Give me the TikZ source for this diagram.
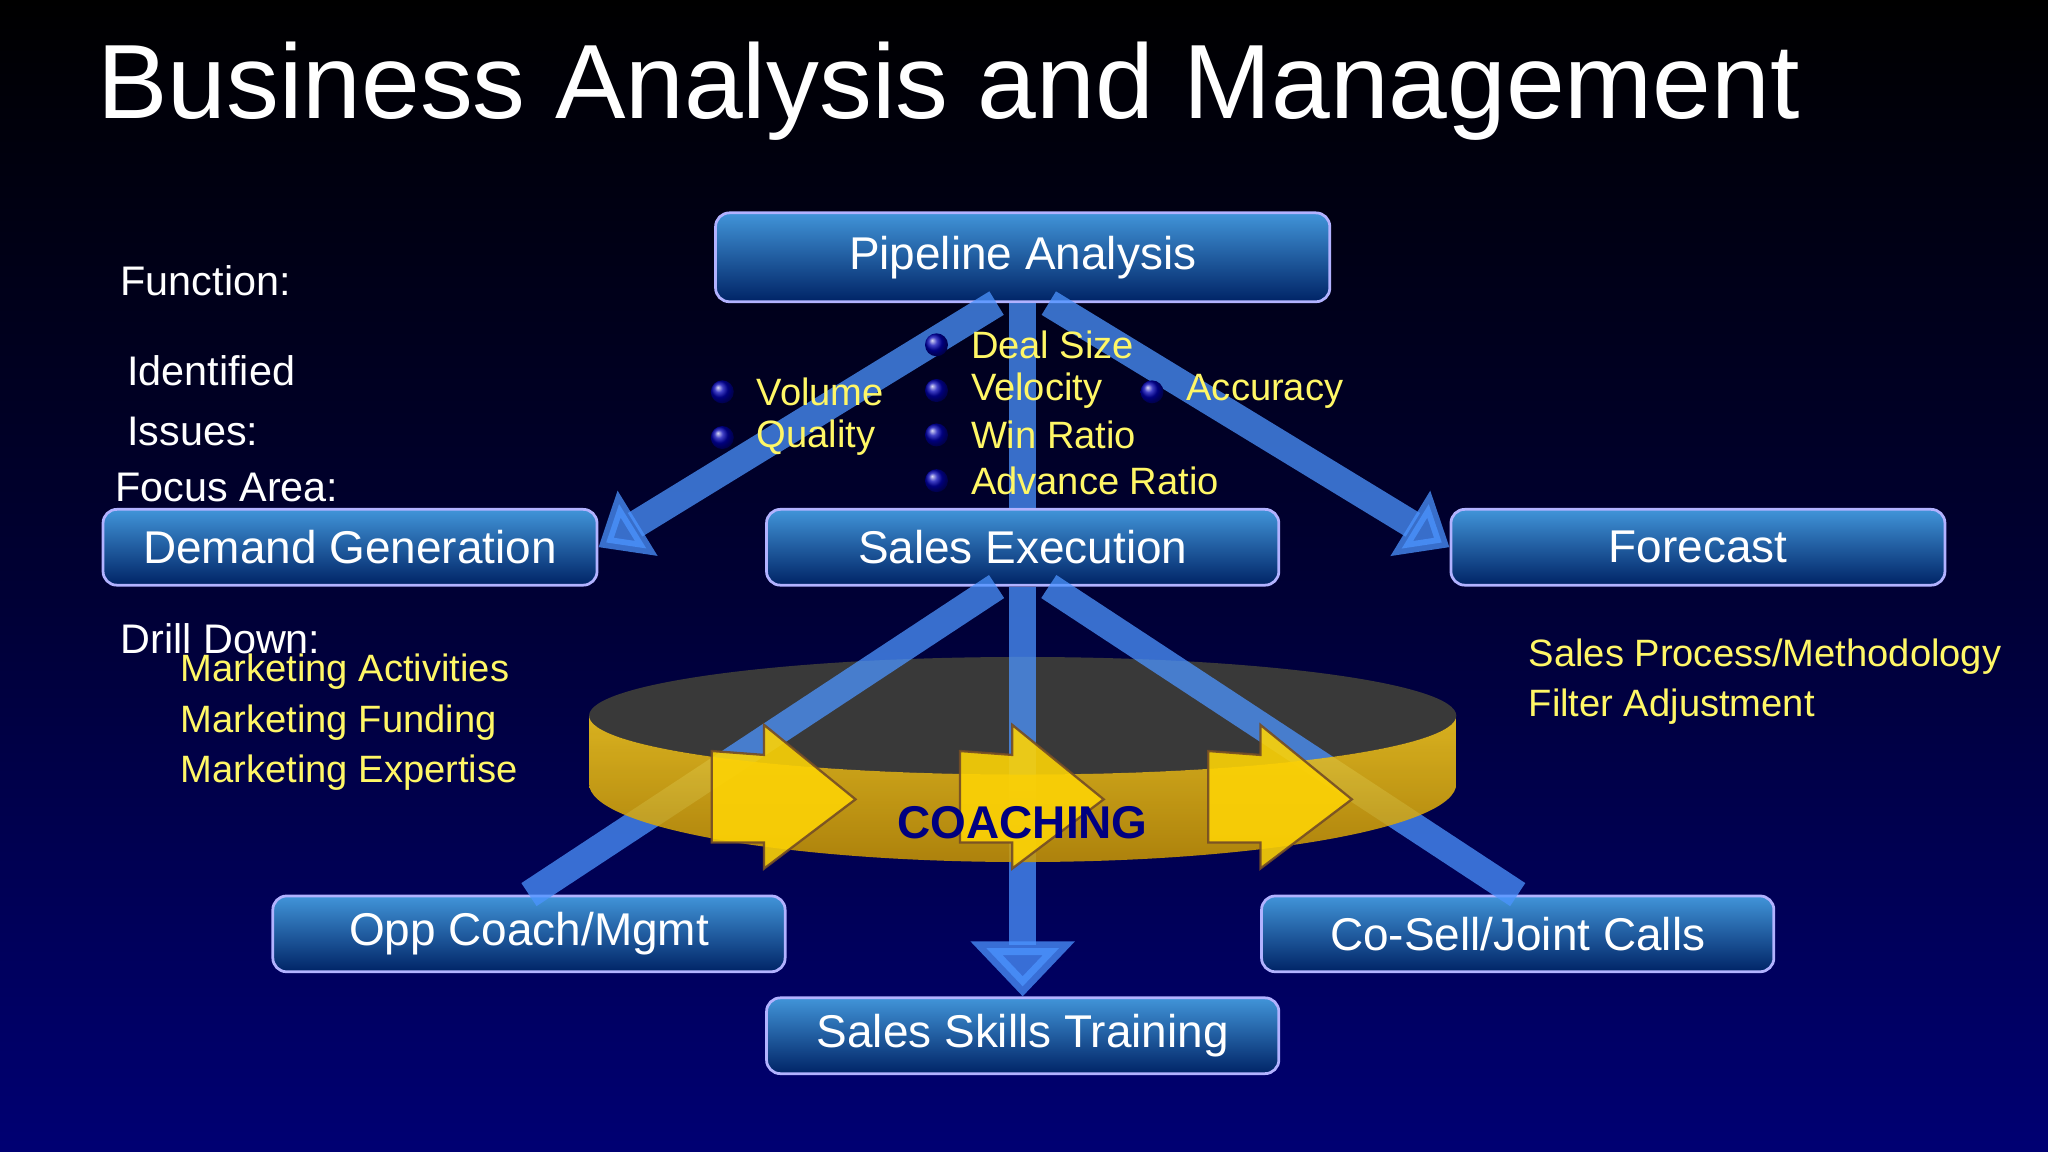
\documentclass[tikz,border=0pt]{standalone}
\usepackage{fontspec}
\setmainfont{Liberation Sans}
\usetikzlibrary{arrows.meta}
\begin{document}
\begin{tikzpicture}[x=0.01cm,y=-0.01cm,
 box/.style={draw=blue!30!white,line width=0.6pt,rounded corners=3pt,top color=blue!45!cyan!70!white!85!black,bottom color=blue!65!cyan!40!black,text=white,font=\fontsize{10}{12}\selectfont,inner sep=0pt},
 conn/.style={line width=6pt,draw=blue!60!cyan!70!white,opacity=0.75},
 lbl/.style={text=white,font=\fontsize{9}{11}\selectfont,anchor=west},
 yel/.style={text=yellow!60!white,font=\fontsize{8.3}{10}\selectfont,anchor=west,align=left},
 dot/.style={circle,inner sep=0pt,minimum size=5pt,ball color=blue!70!black}]
\shade[top color=black,bottom color=blue!45!black,middle color=blue!20!black] (0,0) rectangle (1568,882);
\useasboundingbox (0,0) rectangle (1568,882);
\node[anchor=west,text=white,font=\fontsize{23}{26}\selectfont] (title) at (62,70) {Business Analysis and Management};
\node[box,minimum width=4.7cm,minimum height=0.68cm] (pa) at (783,197) {Pipeline Analysis};
\node[box,minimum width=3.78cm,minimum height=0.58cm] (dg) at (268,419) {Demand Generation};
\node[box,minimum width=3.92cm,minimum height=0.58cm] (se) at (783,419) {Sales Execution};
\node[box,minimum width=3.78cm,minimum height=0.58cm] (fc) at (1300,419) {Forecast};
\node[box,minimum width=3.92cm,minimum height=0.58cm] (oc) at (405,715) {Opp Coach/Mgmt};
\node[box,minimum width=3.92cm,minimum height=0.58cm] (cs) at (1162,715) {Co-Sell/Joint Calls};
\node[box,minimum width=3.92cm,minimum height=0.58cm] (st) at (783,793) {Sales Skills Training};
% connectors top
\draw[conn,-{Triangle[width=16pt,length=10pt]}] (pa.south) ++(-20,0) coordinate (p1) -- (dg.east);
\draw[conn,-{Triangle[width=16pt,length=10pt]}] (pa.south) ++(20,0) coordinate (p2) -- (fc.west);
\draw[conn] (pa.south) -- (se.north);
% coaching ring back
\fill[gray!45!black] (783,548) ellipse (332 and 45);
\draw[conn] (se.south) ++(-20,0) -- (oc.north);
\draw[conn] (se.south) ++(20,0) -- (cs.north);
\draw[conn,-{Triangle[width=22pt,length=12pt]}] (se.south) -- (st.north);
% ring front band
\shade[top color=yellow!60!orange!90!white,bottom color=yellow!50!orange!80!black,opacity=0.85]
 (451,548) arc[start angle=180,end angle=0,x radius=332,y radius=45] -- (1115,600) arc[start angle=0,end angle=180,x radius=332,y radius=60] -- cycle;
\foreach \x in {545,735,925}{
 \fill[yellow!70!orange,draw=brown!60!black,line width=0.5pt,opacity=0.9] (\x,575) -- (\x+40,578) -- (\x+40,555) -- (\x+110,612) -- (\x+40,665) -- (\x+40,645) -- (\x,645) -- cycle;}
\node[text=blue!50!black,font=\bfseries\fontsize{10}{12}\selectfont] (co) at (783,630) {COACHING};
% labels
\node[lbl] (fn) at (80,215) {Function:};
\node[lbl,align=left] (ii) at (85,307) {Identified\\[2pt]Issues:};
\node[lbl] (fa) at (76,373) {Focus Area:};
\node[lbl] (dd) at (80,489) {Drill Down:};
\node[yel] (mk) at (126,553) {Marketing Activities\\[1pt]Marketing Funding\\[1pt]Marketing Expertise};
\node[yel] (sp) at (1158,522) {Sales Process/Methodology\\[1pt]Filter Adjustment};
% bullets
\foreach \n/\x/\y/\t in {a/553/300/Volume,b/553/335/Quality,c/717/264/Deal Size,d/717/299/Velocity,e/717/333/Win Ratio,f/717/368/Advance Ratio,g/882/300/Accuracy}{
 \node[dot] (d\n) at (\x,\y) {};
 \node[yel] (t\n) at (\x+14,\y) {\t};}
\end{tikzpicture}
\end{document}
